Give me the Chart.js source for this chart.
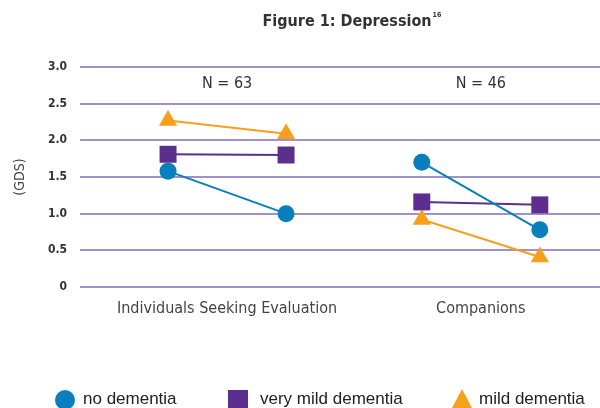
<!DOCTYPE html>
<html>
<head>
<meta charset="utf-8">
<script src="https://cdn.jsdelivr.net/npm/chart.js@4"></script>
<style>
  html, body { margin: 0; padding: 0; background: #fff; }
  #wrap { position: relative; width: 600px; height: 408px; overflow: hidden; }
  #legend { position: absolute; left: 0; top: 388px; width: 600px; height: 20px;
            font-family: "Liberation Sans", Arial, sans-serif; font-size: 17px; color: #222; }
  #legend span { position: absolute; top: 1px; white-space: nowrap; }
  .mk { position: absolute; }
</style>
</head>
<body>
<div id="wrap">
  <canvas id="chart" width="600" height="408"></canvas>
  <div id="legend"></div>
</div>
<script>
// Groups and sample sizes
const groups = ["Individuals Seeking Evaluation", "Companions"];
const groupN = ["N = 63", "N = 46"];

// GDS scores, two time points per group
const noDementia = [[1.58, 1.00], [1.70, 0.78]];
const veryMild = [[1.81, 1.80], [1.16, 1.12]];
const mildDementia = [[2.27, 2.09], [0.92, 0.41]];

const yTicks = [0, 0.5, 1.0, 1.5, 2.0, 2.5, 3.0];

const blue = "#0a7fbd", purple = "#5c2e8e", orange = "#f8a01c";
const condensed = '"Liberation Sans Narrow", "DejaVu Sans Condensed", sans-serif';

// x position of a point: groups are a bit further apart than the two time points
const groupStep = 2.15;
function toPoints(vals) {
    const pts = [];
    vals.forEach((pair, g) => {
        pair.forEach((v, t) => pts.push({ x: g * groupStep + t, y: v }));
        pts.push({ x: g * groupStep + 1.5, y: null }); // break line between groups
    });
    return pts;
}

const series = [
    { label: "no dementia", vals: noDementia, color: blue, style: "circle", r: 8.5 },
    { label: "very mild dementia", vals: veryMild, color: purple, style: "rect", r: 12 },
    { label: "mild dementia", vals: mildDementia, color: orange, style: "triangle", r: 10.5 }
];

// text on top of plot: title and N labels
const annotations = {
    id: "annotations",
    afterDraw(chart) {
        const c = chart.ctx, xs = chart.scales.x, ys = chart.scales.y;
        c.save();
        c.fillStyle = "#333";
        c.textBaseline = "middle";
        c.font = "bold 16px " + condensed;
        c.textAlign = "left";
        const title = "Figure 1: Depression";
        const w = c.measureText(title).width;
        const tx = 347 - w / 2;
        c.fillText(title, tx, 22);
        c.font = "bold 7px " + condensed;
        c.fillText("16", tx + w + 1, 15);
        c.font = "16px " + condensed;
        c.textAlign = "center";
        groupN.forEach((n, g) => {
            c.fillText(n, xs.getPixelForValue(g * groupStep + 0.5), ys.getPixelForValue(2.77));
        });
        c.restore();
    }
};

new Chart(document.getElementById("chart").getContext("2d"), {
    type: "line",
    data: {
        datasets: series.map(s => ({
            label: s.label,
            data: toPoints(s.vals),
            borderColor: s.color,
            backgroundColor: s.color,
            borderWidth: 2,
            pointStyle: s.style,
            pointRadius: s.r,
            pointHoverRadius: s.r,
            pointBorderWidth: 0,
            spanGaps: false
        }))
    },
    options: {
        responsive: false,
        animation: false,
        layout: { autoPadding: false, padding: { top: 67, right: 0, bottom: 0, left: 0 } },
        plugins: { legend: { display: false }, tooltip: { enabled: false } },
        scales: {
            x: {
                type: "linear",
                min: -0.746,
                max: 3.66,
                afterBuildTicks: s => { s.ticks = groups.map((g, i) => ({ value: i * groupStep + 0.5 })); },
                afterFit: s => { s.height = 121; },
                ticks: {
                    padding: 12,
                    maxRotation: 0,
                    color: "#444",
                    font: { family: condensed, size: 16 },
                    callback: (v, i) => groups[i]
                },
                grid: { display: false, drawTicks: false },
                border: { display: false }
            },
            y: {
                min: 0,
                max: 3,
                afterBuildTicks: s => { s.ticks = yTicks.map(v => ({ value: v })); },
                afterFit: s => { s.width = 80; },
                ticks: {
                    padding: 13,
                    color: "#333",
                    font: { family: condensed, size: 12, weight: "bold" },
                    callback: v => v === 0 ? "0" : v.toFixed(1)
                },
                grid: { color: "#a38fcc", lineWidth: 2, drawTicks: false },
                border: { display: false },
                title: {
                    display: true,
                    text: "(GDS)",
                    color: "#444",
                    font: { family: condensed, size: 14 },
                    padding: { top: 12, bottom: 0 }
                }
            }
        }
    },
    plugins: [annotations]
});

// legend under the chart
const legendPos = [
    { mark: 55, text: 83 },
    { mark: 228, text: 260 },
    { mark: 452, text: 479 }
];
const legend = document.getElementById("legend");
series.forEach((s, i) => {
    const m = document.createElement("div");
    m.className = "mk";
    m.style.left = legendPos[i].mark + "px";
    if (s.style === "circle") {
        Object.assign(m.style, { top: "2px", width: "20px", height: "20px", borderRadius: "50%", background: s.color });
    } else if (s.style === "rect") {
        Object.assign(m.style, { top: "2px", width: "20px", height: "20px", background: s.color });
    } else {
        Object.assign(m.style, { top: "1px", width: "0", height: "0", borderLeft: "10px solid transparent",
            borderRight: "10px solid transparent", borderBottom: "19px solid " + s.color });
    }
    legend.appendChild(m);
    const t = document.createElement("span");
    t.style.left = legendPos[i].text + "px";
    t.textContent = s.label;
    legend.appendChild(t);
});
</script>
</body>
</html>
